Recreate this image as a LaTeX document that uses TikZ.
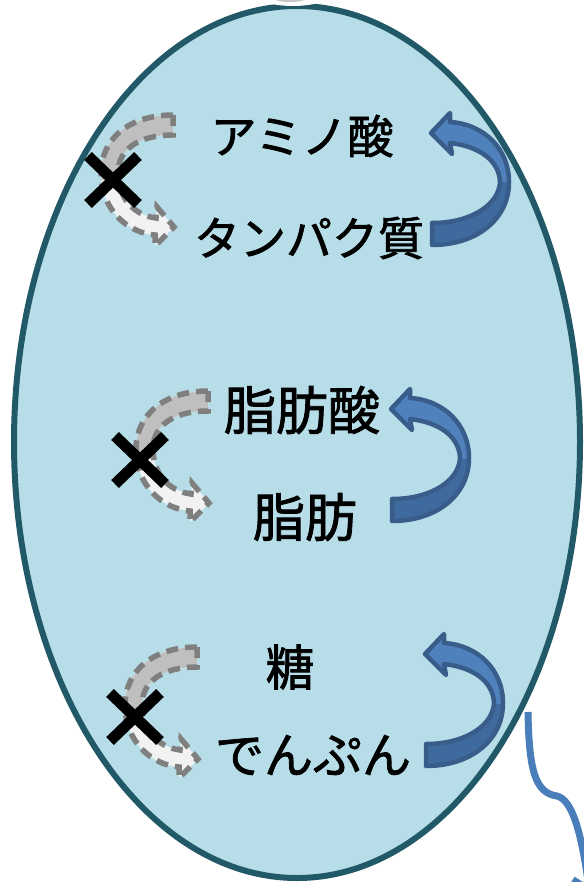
\documentclass[tikz,border=0pt]{standalone}
\usepackage{fontspec}
\newfontfamily\jpfont[FakeBold=1.6]{Noto Sans CJK JP}
\usetikzlibrary{arrows.meta}
\definecolor{cellfill}{HTML}{B7DEE8}
\definecolor{celledge}{HTML}{215968}
\definecolor{bluelight}{HTML}{4F81BD}
\definecolor{bluedark}{HTML}{3F6A9D}
\definecolor{blueedge}{HTML}{385D8A}
\definecolor{graylight}{HTML}{BFBFBF}
\definecolor{graywhite}{HTML}{F2F2F2}
\definecolor{grayedge}{HTML}{7F7F7F}
\definecolor{flowblue}{HTML}{4A7EBB}
\tikzset{
  lbl/.style={font=\jpfont\fontsize{46}{50}\selectfont, inner sep=0pt},
  lblbig/.style={font=\jpfont\fontsize{52}{56}\selectfont, inner sep=0pt},
  lblmid/.style={font=\jpfont\fontsize{49}{54}\selectfont, inner sep=0pt},
  bluepath/.style={insert path={(0,11) .. controls (45,11) and (77,-15) .. (77,-52)
     .. controls (77,-85) and (52,-110) .. (18,-112) -- (18,-121) -- (-1,-101) -- (20,-80) -- (18,-91)
     .. controls (45,-88) and (67,-75) .. (68,-52) .. controls (67,-30) and (40,-11) .. (0,-11) -- cycle}},
  graypath/.style={insert path={(0,-10) .. controls (-45,-10) and (-72,15) .. (-72,48)
     .. controls (-72,85) and (-45,108) .. (-18,110) -- (-18,121) -- (1,102) -- (-16,82) -- (-17,93)
     .. controls (-40,90) and (-55,72) .. (-55,48) .. controls (-55,25) and (-35,10) .. (0,10) -- cycle}},
  bluearrow/.pic={
    \fill[bluedark, bluepath];
    \begin{scope}
      \clip (-50,-52) rectangle (120,-200);
      \fill[bluelight, bluepath];
    \end{scope}
    \draw[blueedge, line width=4.5pt, line join=round, bluepath];
  },
  grayarrow/.pic={
    \fill[graywhite, graypath];
    \begin{scope}
      \clip (-120,55) rectangle (50,-50);
      \fill[graylight, graypath];
    \end{scope}
    \draw[grayedge, line width=5.5pt, dash pattern=on 12pt off 7pt, graypath];
  },
  nocross/.style={line width=11pt, black},
}
\begin{document}
\begin{tikzpicture}[x=1pt, y=-1pt]
\useasboundingbox (0,0) rectangle (583,882);
% cell
\draw[fill=cellfill, draw=celledge, line width=6pt] (297,442) ellipse [x radius=283, y radius=436];
% partially visible shape at the top
\fill[white] (293,-14) ellipse [x radius=48, y radius=20];
\fill[gray!45] (290,-6) ellipse [x radius=22, y radius=8];
% grey (blocked) arrows
\pic (g1) at (173,125) {grayarrow};
\pic (g2) at (208,401) {grayarrow};
\pic (g3) at (197,657) {grayarrow};
% crosses
\foreach \cx/\cy in {113/180, 140/460, 135/717}{
  \draw[nocross] (\cx-25,\cy-24) -- (\cx+25,\cy+24);
  \draw[nocross] (\cx+25,\cy-24) -- (\cx-25,\cy+24);
}
% blue arrows
\pic (b1) at (432,234) {bluearrow};
\pic (b2) at (392,510) {bluearrow};
\pic (b3) at (426,755) {bluearrow};
% labels
\node[lbl] (amino) at (302,136) {アミノ酸};
\node[lbl] (protein) at (309,238) {タンパク質};
\node[lblbig] (fattyacid) at (302,410) {脂肪酸};
\node[lblbig] (fat) at (305,517) {脂肪};
\node[lblmid] (sugar) at (290,667) {糖};
\node[lblmid] (starch) at (313,755) {でんぷん};
% outflow arrow
\coordinate (flowstart) at (528,712);
\coordinate (flowend) at (590,895);
\draw[flowblue, line width=7pt, -{Straight Barb[length=13pt, width=30pt]}]
  (flowstart) .. controls (529,770) and (535,793) .. (557,796)
  .. controls (572,800) and (581,830) .. (flowend);
\end{tikzpicture}
\end{document}
